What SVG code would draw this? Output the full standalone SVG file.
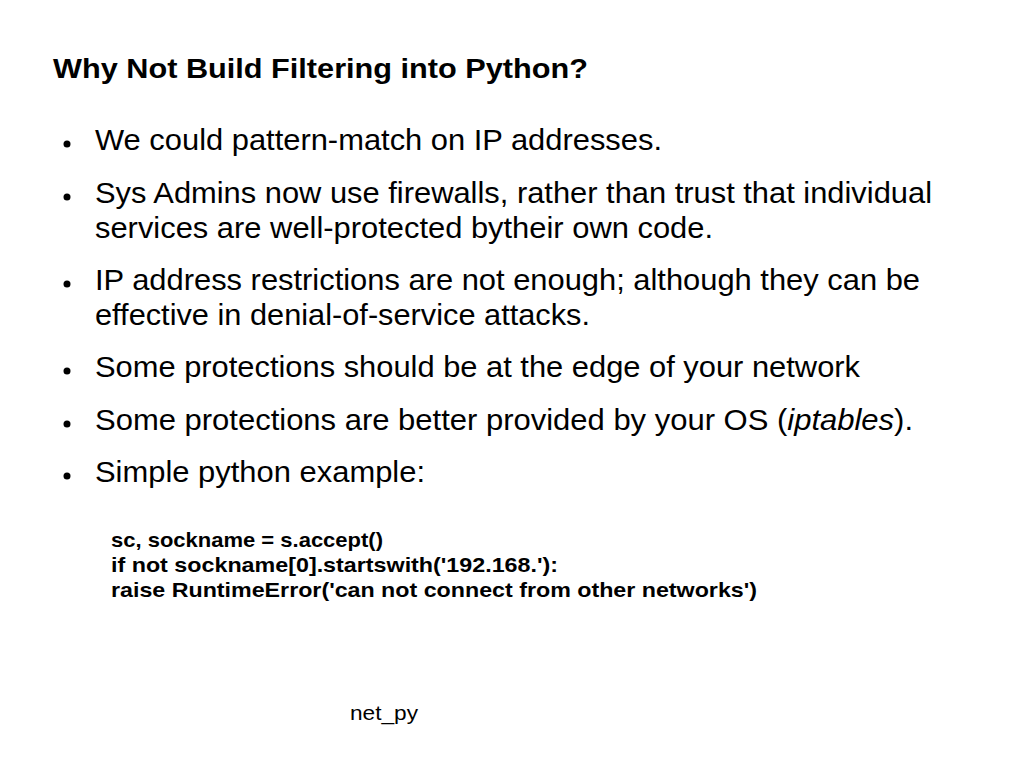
<svg xmlns="http://www.w3.org/2000/svg" width="1023" height="767" viewBox="0 0 1023 767">
<style>
text{font-family:"Liberation Sans",Arial,sans-serif;fill:#000}
.title{font-size:27px;font-weight:bold}
.b{font-size:30px}
.code{font-size:21px;font-weight:bold}
.foot{font-size:21px}
</style>
<rect width="1023" height="767" fill="#fff"/>
<g id="title"><text class="title" x="53" y="78" textLength="535" lengthAdjust="spacingAndGlyphs">Why Not Build Filtering into Python?</text></g>
<g id="bullets">
<circle cx="67" cy="144" r="3.5"/>
<text class="b" x="95" y="150" textLength="567" lengthAdjust="spacingAndGlyphs">We could pattern-match on IP addresses.</text>
<circle cx="67" cy="197" r="3.5"/>
<text class="b" x="95" y="203" textLength="837" lengthAdjust="spacingAndGlyphs">Sys Admins now use firewalls, rather than trust that individual</text>
<text class="b" x="95" y="238" textLength="618" lengthAdjust="spacingAndGlyphs">services are well-protected bytheir own code.</text>
<circle cx="67" cy="284" r="3.5"/>
<text class="b" x="95" y="290" textLength="825" lengthAdjust="spacingAndGlyphs">IP address restrictions are not enough; although they can be</text>
<text class="b" x="95" y="325" textLength="495" lengthAdjust="spacingAndGlyphs">effective in denial-of-service attacks.</text>
<circle cx="67" cy="371" r="3.5"/>
<text class="b" x="95" y="377" textLength="765" lengthAdjust="spacingAndGlyphs">Some protections should be at the edge of your network</text>
<circle cx="67" cy="424" r="3.5"/>
<text class="b" x="95" y="430" textLength="818" lengthAdjust="spacingAndGlyphs">Some protections are better provided by your OS (<tspan font-style="italic">iptables</tspan>).</text>
<circle cx="67" cy="476" r="3.5"/>
<text class="b" x="95" y="482" textLength="330" lengthAdjust="spacingAndGlyphs">Simple python example:</text>
</g>
<g id="code">
<text class="code" x="111" y="547" textLength="272" lengthAdjust="spacingAndGlyphs">sc, sockname = s.accept()</text>
<text class="code" x="111" y="572" textLength="447" lengthAdjust="spacingAndGlyphs">if not sockname[0].startswith('192.168.'):</text>
<text class="code" x="111" y="597" textLength="646" lengthAdjust="spacingAndGlyphs">raise RuntimeError('can not connect from other networks')</text>
</g>
<g id="footer"><text class="foot" x="350" y="720" textLength="68" lengthAdjust="spacingAndGlyphs">net_py</text></g>
<g id="connectors"/>
</svg>
